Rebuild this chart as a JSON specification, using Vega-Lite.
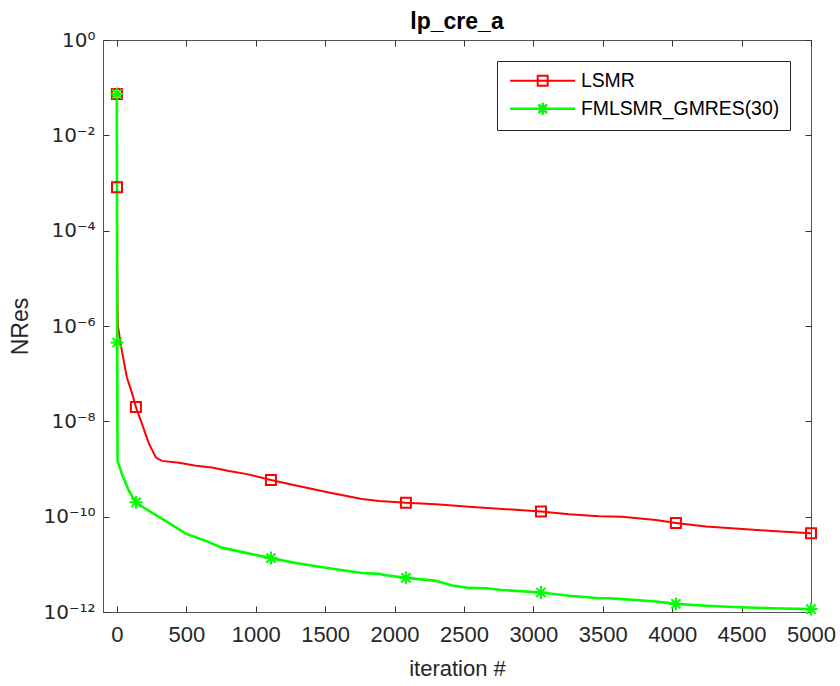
{
  "$schema": "https://vega.github.io/schema/vega-lite/v6.json",
  "width": 708,
  "height": 572,
  "autosize": {"type": "none"},
  "padding": {"left": 103, "top": 40, "right": 29, "bottom": 74},
  "background": "white",
  "title": {"text": "lp_cre_a", "font": "Liberation Sans", "fontSize": 23, "fontWeight": "bold", "color": "#000000", "offset": -4, "anchor": "middle"},
  "config": {
    "view": {"stroke": "#555555", "strokeWidth": 1},
    "axis": {
      "domainColor": "#555555",
      "tickColor": "#333333",
      "tickSize": -6,
      "grid": false,
      "labelColor": "#262626",
      "titleColor": "#262626",
      "labelFlush": false,
      "labelOverlap": false,
      "titleFont": "Liberation Sans",
      "titleFontWeight": "normal",
      "titleFontSize": 22
    }
  },
  "datasets": {
    "lines": [
      {"s": "LSMR", "it": 0, "v": 7.4e-2},
      {"s": "LSMR", "it": 1, "v": 8.1e-4},
      {"s": "LSMR", "it": 2, "v": 3.2e-5},
      {"s": "LSMR", "it": 4, "v": 3.2e-6},
      {"s": "LSMR", "it": 7, "v": 1.02e-6},
      {"s": "LSMR", "it": 36, "v": 3.0e-7},
      {"s": "LSMR", "it": 72, "v": 8.3e-8},
      {"s": "LSMR", "it": 108, "v": 4.0e-8},
      {"s": "LSMR", "it": 137, "v": 2.0e-8},
      {"s": "LSMR", "it": 173, "v": 1.02e-8},
      {"s": "LSMR", "it": 231, "v": 3.4e-9},
      {"s": "LSMR", "it": 281, "v": 1.74e-9},
      {"s": "LSMR", "it": 324, "v": 1.48e-9},
      {"s": "LSMR", "it": 447, "v": 1.35e-9},
      {"s": "LSMR", "it": 569, "v": 1.17e-9},
      {"s": "LSMR", "it": 684, "v": 1.07e-9},
      {"s": "LSMR", "it": 807, "v": 9.1e-10},
      {"s": "LSMR", "it": 929, "v": 7.9e-10},
      {"s": "LSMR", "it": 1110, "v": 5.9e-10},
      {"s": "LSMR", "it": 1290, "v": 4.5e-10},
      {"s": "LSMR", "it": 1527, "v": 3.2e-10},
      {"s": "LSMR", "it": 1765, "v": 2.34e-10},
      {"s": "LSMR", "it": 1888, "v": 2.14e-10},
      {"s": "LSMR", "it": 2082, "v": 1.95e-10},
      {"s": "LSMR", "it": 2298, "v": 1.82e-10},
      {"s": "LSMR", "it": 2536, "v": 1.62e-10},
      {"s": "LSMR", "it": 2774, "v": 1.45e-10},
      {"s": "LSMR", "it": 3055, "v": 1.29e-10},
      {"s": "LSMR", "it": 3256, "v": 1.12e-10},
      {"s": "LSMR", "it": 3473, "v": 1.02e-10},
      {"s": "LSMR", "it": 3638, "v": 1.0e-10},
      {"s": "LSMR", "it": 3883, "v": 8.5e-11},
      {"s": "LSMR", "it": 4027, "v": 7.4e-11},
      {"s": "LSMR", "it": 4244, "v": 6.2e-11},
      {"s": "LSMR", "it": 4481, "v": 5.6e-11},
      {"s": "LSMR", "it": 4719, "v": 5.0e-11},
      {"s": "LSMR", "it": 5000, "v": 4.5e-11},
      {"s": "FMLSMR_GMRES(30)", "it": 0, "v": 7.4e-2},
      {"s": "FMLSMR_GMRES(30)", "it": 2, "v": 4.5e-7},
      {"s": "FMLSMR_GMRES(30)", "it": 5, "v": 1.48e-9},
      {"s": "FMLSMR_GMRES(30)", "it": 36, "v": 7.9e-10},
      {"s": "FMLSMR_GMRES(30)", "it": 86, "v": 3.5e-10},
      {"s": "FMLSMR_GMRES(30)", "it": 137, "v": 2.0e-10},
      {"s": "FMLSMR_GMRES(30)", "it": 209, "v": 1.45e-10},
      {"s": "FMLSMR_GMRES(30)", "it": 353, "v": 8.1e-11},
      {"s": "FMLSMR_GMRES(30)", "it": 497, "v": 4.4e-11},
      {"s": "FMLSMR_GMRES(30)", "it": 641, "v": 3.1e-11},
      {"s": "FMLSMR_GMRES(30)", "it": 756, "v": 2.24e-11},
      {"s": "FMLSMR_GMRES(30)", "it": 929, "v": 1.74e-11},
      {"s": "FMLSMR_GMRES(30)", "it": 1110, "v": 1.35e-11},
      {"s": "FMLSMR_GMRES(30)", "it": 1290, "v": 1.07e-11},
      {"s": "FMLSMR_GMRES(30)", "it": 1527, "v": 8.3e-12},
      {"s": "FMLSMR_GMRES(30)", "it": 1765, "v": 6.6e-12},
      {"s": "FMLSMR_GMRES(30)", "it": 1888, "v": 6.3e-12},
      {"s": "FMLSMR_GMRES(30)", "it": 1938, "v": 5.9e-12},
      {"s": "FMLSMR_GMRES(30)", "it": 2082, "v": 5.2e-12},
      {"s": "FMLSMR_GMRES(30)", "it": 2298, "v": 4.5e-12},
      {"s": "FMLSMR_GMRES(30)", "it": 2414, "v": 3.6e-12},
      {"s": "FMLSMR_GMRES(30)", "it": 2536, "v": 3.2e-12},
      {"s": "FMLSMR_GMRES(30)", "it": 2659, "v": 3.16e-12},
      {"s": "FMLSMR_GMRES(30)", "it": 2774, "v": 2.9e-12},
      {"s": "FMLSMR_GMRES(30)", "it": 3055, "v": 2.57e-12},
      {"s": "FMLSMR_GMRES(30)", "it": 3256, "v": 2.19e-12},
      {"s": "FMLSMR_GMRES(30)", "it": 3473, "v": 1.95e-12},
      {"s": "FMLSMR_GMRES(30)", "it": 3545, "v": 1.95e-12},
      {"s": "FMLSMR_GMRES(30)", "it": 3638, "v": 1.86e-12},
      {"s": "FMLSMR_GMRES(30)", "it": 3883, "v": 1.66e-12},
      {"s": "FMLSMR_GMRES(30)", "it": 4027, "v": 1.48e-12},
      {"s": "FMLSMR_GMRES(30)", "it": 4244, "v": 1.35e-12},
      {"s": "FMLSMR_GMRES(30)", "it": 4481, "v": 1.26e-12},
      {"s": "FMLSMR_GMRES(30)", "it": 4719, "v": 1.2e-12},
      {"s": "FMLSMR_GMRES(30)", "it": 5000, "v": 1.15e-12}
    ],
    "markers": [
      {"s": "LSMR", "it": 0, "v": 7.4e-2},
      {"s": "LSMR", "it": 1, "v": 8.1e-4},
      {"s": "LSMR", "it": 137, "v": 2.0e-8},
      {"s": "LSMR", "it": 1110, "v": 5.9e-10},
      {"s": "LSMR", "it": 2082, "v": 1.95e-10},
      {"s": "LSMR", "it": 3055, "v": 1.29e-10},
      {"s": "LSMR", "it": 4027, "v": 7.4e-11},
      {"s": "LSMR", "it": 5000, "v": 4.5e-11},
      {"s": "FMLSMR_GMRES(30)", "it": 0, "v": 7.4e-2},
      {"s": "FMLSMR_GMRES(30)", "it": 2, "v": 4.5e-7},
      {"s": "FMLSMR_GMRES(30)", "it": 137, "v": 2.0e-10},
      {"s": "FMLSMR_GMRES(30)", "it": 1110, "v": 1.35e-11},
      {"s": "FMLSMR_GMRES(30)", "it": 2082, "v": 5.2e-12},
      {"s": "FMLSMR_GMRES(30)", "it": 3055, "v": 2.57e-12},
      {"s": "FMLSMR_GMRES(30)", "it": 4027, "v": 1.48e-12},
      {"s": "FMLSMR_GMRES(30)", "it": 5000, "v": 1.15e-12}
    ]
  },
  "layer": [
    {
      "data": {"name": "lines"},
      "mark": {"type": "line", "clip": true},
      "encoding": {
        "x": {
          "field": "it", "type": "quantitative",
          "scale": {"domain": [-100, 5000], "nice": false, "zero": false},
          "axis": {"orient": "bottom", "title": "iteration #", "values": [0, 500, 1000, 1500, 2000, 2500, 3000, 3500, 4000, 4500, 5000], "format": "d", "labelFont": "Liberation Sans Narrow, Liberation Sans", "labelFontSize": 22, "labelPadding": 18, "titlePadding": 13}
        },
        "y": {
          "field": "v", "type": "quantitative",
          "scale": {"type": "log", "domain": [1e-12, 1], "nice": false},
          "axis": {"orient": "left", "title": "NRes", "values": [1e-12, 1e-10, 1e-8, 1e-6, 1e-4, 1e-2, 1], "labelExpr": "'10' + replace(replace(replace(replace(replace(replace(replace('' + round(log(datum.value) / LN10), '-', '⁻'), '1', '¹'), '2', '²'), '4', '⁴'), '6', '⁶'), '8', '⁸'), '0', '⁰')", "labelFont": "DejaVu Sans", "labelFontSize": 20, "labelPadding": 14, "titlePadding": 10, "titleFontSize": 23}
        },
        "color": {
          "field": "s", "type": "nominal",
          "scale": {"domain": ["LSMR", "FMLSMR_GMRES(30)"], "range": ["#ff0000", "#00ff00"]},
          "legend": {
            "title": null,
            "orient": "top-right",
            "offset": 21,
            "strokeColor": "#262626",
            "fillColor": "white",
            "padding": 10,
            "rowPadding": 6,
            "labelFont": "Liberation Sans",
            "labelFontSize": 19.4,
            "labelLimit": 0,
            "labelColor": "#000000",
            "labelOffset": 28.5,
            "symbolOffset": 26,
            "symbolSize": 144,
            "symbolStrokeWidth": 2,
            "symbolType": "stroke",
            "encode": {"symbols": {"update": {"shape": {"signal": "datum.value === 'LSMR' ? 'M-5.42,0L5.42,0M-0.83,-0.83L0.83,-0.83L0.83,0.83L-0.83,0.83Z' : 'M-5.42,0L5.42,0M0,-1L0,1M-0.71,-0.71L0.71,0.71M-0.71,0.71L0.71,-0.71'"}, "fill": {"value": "transparent"}}}}
          }
        },
        "strokeWidth": {"field": "s", "type": "nominal", "scale": {"domain": ["LSMR", "FMLSMR_GMRES(30)"], "range": [2, 2.6]}, "legend": null}
      }
    },
    {
      "data": {"name": "markers"},
      "mark": {"type": "point", "filled": false, "strokeWidth": 2, "size": 100, "opacity": 1, "clip": false},
      "encoding": {
        "x": {"field": "it", "type": "quantitative", "axis": {"orient": "top", "labels": false, "title": null, "domain": false, "values": [0, 500, 1000, 1500, 2000, 2500, 3000, 3500, 4000, 4500, 5000]}},
        "y": {"field": "v", "type": "quantitative", "axis": {"orient": "right", "labels": false, "title": null, "domain": false, "values": [1e-12, 1e-10, 1e-8, 1e-6, 1e-4, 1e-2, 1]}},
        "stroke": {"condition": {"test": "datum.s === 'LSMR'", "value": "#ff0000"}, "value": "#00ff00"},
        "shape": {"condition": {"test": "datum.s === 'LSMR'", "value": "square"}, "value": "M-1.3,0L1.3,0M0,-1.3L0,1.3M-0.92,-0.92L0.92,0.92M-0.92,0.92L0.92,-0.92"}
      }
    }
  ],
  "resolve": {"axis": {"x": "independent", "y": "independent"}}
}
